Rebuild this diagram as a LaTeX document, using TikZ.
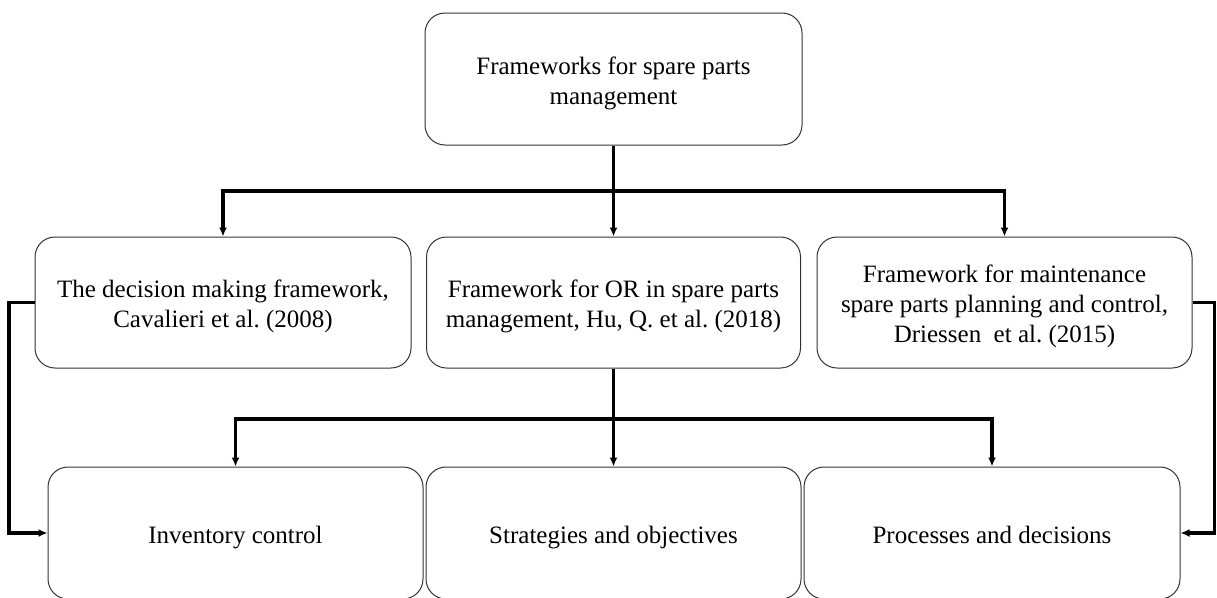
\documentclass[tikz,border=0pt]{standalone}
\usepackage{fontspec}
\setmainfont{Liberation Serif}
\usetikzlibrary{arrows.meta}
\newcommand\topstrut{\rule{0pt}{29pt}}
\begin{document}
\frenchspacing
\begin{tikzpicture}[x=1pt,y=-1pt,
  box/.style={draw=black!80,line width=1pt,rounded corners=20pt,inner sep=0pt,
    minimum height=132pt,align=center,font=\fontsize{25}{30}\selectfont},
  conn/.style={line width=3.2pt,draw=black},
  arr/.style={conn,-{Latex[length=9pt,width=8pt]}}]
\useasboundingbox (0,0) rectangle (1217,597);
\node[box,minimum width=377pt] (top) at (613.5,79) {\topstrut Frameworks for spare parts\\management\strut};
\node[box,minimum width=376pt,minimum height=131pt] (L) at (223,302.5) {\topstrut The decision making framework,\\Cavalieri et al. (2008)\strut};
\node[box,minimum width=374pt,minimum height=131pt] (M) at (613.5,302.5) {\topstrut Framework for OR in spare parts\\management, Hu, Q. et al. (2018)\strut};
\node[box,minimum width=375pt,minimum height=131pt] (R) at (1004.5,302.5) {\topstrut Framework for maintenance\\spare parts planning and control,\\Driessen\ \ et al. (2015)\strut};
\node[box,minimum width=375pt] (B1) at (235.5,533) {\topstrut Inventory control\strut};
\node[box,minimum width=375pt] (B2) at (613.5,533) {\topstrut Strategies and objectives\strut};
\node[box,minimum width=376pt] (B3) at (992,533) {\topstrut Processes and decisions\strut};
\coordinate (bus1) at (613.5,191);
\coordinate (bus2) at (613.5,419);
\coordinate (lc) at (9,0);
\coordinate (rc) at (1214.5,0);
\draw[conn] (top.south) -- (bus1);
\draw[arr] (bus1) -| (L.north);
\draw[arr] (bus1) -- (M.north);
\draw[arr] (bus1) -| (R.north);
\draw[conn] (M.south) -- (bus2);
\draw[arr] (bus2) -| (B1.north);
\draw[arr] (bus2) -- (B2.north);
\draw[arr] (bus2) -| (B3.north);
\draw[arr] (L.west) -- (L.west -| lc) |- (B1.west);
\draw[arr] (R.east) -- (R.east -| rc) |- (B3.east);
\end{tikzpicture}
\end{document}
